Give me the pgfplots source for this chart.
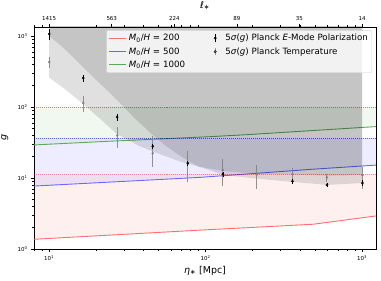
\documentclass[border=0pt]{standalone}
\usepackage{fontspec}
\setmainfont{DejaVu Sans}
\usepackage{pgfplots}
\pgfplotsset{compat=1.18}
\definecolor{mred}{RGB}{255,0,0}
\definecolor{mblue}{RGB}{0,0,255}
\definecolor{mgreen}{RGB}{0,128,0}
\definecolor{lred}{RGB}{255,110,110}
\definecolor{lblue}{RGB}{105,105,255}
\definecolor{lgreen}{RGB}{90,170,90}
\begin{document}
\begin{tikzpicture}
\begin{axis}[
  name=main,
  scale only axis, width=342bp, height=222bp,
  xmode=log, ymode=log, xmin=8, xmax=1228, ymin=1, ymax=1340,
  axis line style={line width=0.6pt},
  tick align=outside, xtick pos=left, ytick pos=left,
  major tick length=3bp, minor tick length=1.8bp,
  every tick/.style={black, line width=0.5pt},
  xtick={10,100,1000},
  xticklabels={10\textsuperscript{1},10\textsuperscript{2},10\textsuperscript{3}},
  ytick={1,10,100,1000},
  yticklabels={10\textsuperscript{0},10\textsuperscript{1},10\textsuperscript{2},10\textsuperscript{3}},
  minor xtick={8,9,20,30,40,50,60,70,80,90,200,300,400,500,600,700,800,900},
  minor ytick={2,3,4,5,6,7,8,9,20,30,40,50,60,70,80,90,200,300,400,500,600,700,800,900},
  tick label style={font=\fontsize{5.5}{6.5}\selectfont},
  xlabel={\textit{η}\textsubscript{∗} [Mpc]}, ylabel={\textit{g}},
  label style={font=\fontsize{9.5}{11}\selectfont},
  xlabel style={yshift=1bp}, ylabel style={yshift=2.5bp},
  legend columns=2,
  legend cell align=left,
  legend style={at={(rel axis cs:0.988,0.986)}, anchor=north east,
    font=\fontsize{8.7}{10}\selectfont, draw=gray!35, fill=white, fill opacity=0.8,
    text opacity=1, draw opacity=1, rounded corners=2bp, inner sep=1.8bp, row sep=1.4bp,
    /tikz/every even column/.append style={column sep=20bp}},
]
% legend entries (row-major to mimic matplotlib column order)
\addlegendimage{legend image code/.code={\draw[color=lred, draw=lred, line width=1pt] (0cm,0cm)--(0.62cm,0cm);}}
\addlegendentry{\textit{M}\textsubscript{0}/\textit{H} = 200}
\addlegendimage{legend image code/.code={\path (0cm,0cm) (0.56cm,0cm); \draw[draw=black,line width=0.8pt] (0.28cm,-0.13cm)--(0.28cm,0.13cm); \fill[fill=black] (0.28cm,0cm) circle (1.2bp);}}
\addlegendentry{5\textit{σ}(\textit{g}) Planck \textit{E}-Mode Polarization}
\addlegendimage{legend image code/.code={\draw[color=mblue!60, draw=mblue!60, line width=1.1pt] (0cm,0cm)--(0.62cm,0cm);}}
\addlegendentry{\textit{M}\textsubscript{0}/\textit{H} = 500}
\addlegendimage{legend image code/.code={\path (0cm,0cm) (0.56cm,0cm); \draw[draw=gray!80,line width=0.8pt] (0.28cm,-0.13cm)--(0.28cm,0.13cm); \fill[fill=gray] (0.28cm,0cm) circle (1.2bp);}}
\addlegendentry{5\textit{σ}(\textit{g}) Planck Temperature}
\addlegendimage{legend image code/.code={\draw[color=lgreen, draw=lgreen, line width=1pt] (0cm,0cm)--(0.62cm,0cm);}}
\addlegendentry{\textit{M}\textsubscript{0}/\textit{H} = 1000}

% coloured bands
\addplot[forget plot, draw=none, fill=mred, fill opacity=0.06] coordinates {(8,1.37) (95,1.85) (486,2.23) (1228,2.92) (1228,11.4) (8,11.4)} -- cycle;
\addplot[forget plot, draw=none, fill=mblue, fill opacity=0.07] coordinates {(8,7.7) (92,10.2) (486,13.3) (1228,15.2) (1228,36.6) (8,36.6)} -- cycle;
\addplot[forget plot, draw=none, fill=mgreen, fill opacity=0.06] coordinates {(8,29.2) (21.2,32.5) (107,38.2) (192,41) (1228,53) (1228,100) (8,100)} -- cycle;

% M0/H lines
\addplot[forget plot, lred, line width=0.9pt] coordinates {(8,1.37) (95,1.85) (486,2.23) (1228,2.92)};
\addplot[forget plot, lblue, line width=0.9pt] coordinates {(8,7.7) (92,10.2) (486,13.3) (1228,15.2)};
\addplot[forget plot, lgreen, line width=0.9pt] coordinates {(8,29.2) (21.2,32.5) (107,38.2) (192,41) (1228,53)};

% dotted levels
\addplot[forget plot, mred, opacity=0.45, dash pattern=on 0.7pt off 1.3pt, line width=0.6pt] coordinates {(8,11.4) (1228,11.4)};
\addplot[forget plot, mblue, opacity=0.6, dash pattern=on 0.7pt off 1.3pt, line width=0.6pt] coordinates {(8,36.6) (1228,36.6)};
\addplot[forget plot, mgreen, opacity=0.55, dash pattern=on 0.7pt off 1.3pt, line width=0.6pt] coordinates {(8,100) (1228,100)};

% 5 sigma regions
\addplot[forget plot, draw=none, fill=black, fill opacity=0.12] coordinates {(10,1000) (12,720) (14,520) (17,340) (20,240) (25,150) (30,100) (36,66) (45,42) (55,29) (70,20) (90,14.5) (130,11) (213,9.8) (360,8.8) (600,8.0) (1000,8.5) (1000,5000) (10,5000)} -- cycle;
\addplot[forget plot, draw=none, fill=black, fill opacity=0.12] coordinates {(10,260) (13,170) (16.5,110) (21.2,68) (27,42) (38,28) (53,21) (69,17) (90,14.5) (130,12.5) (213,11.4) (360,11.2) (600,10.8) (1000,11) (1000,5000) (10,5000)} -- cycle;

% data points
\addplot[forget plot, only marks, mark=*, mark size=1.1bp, gray, opacity=0.85,
  error bars/.cd, y dir=both, y explicit, error mark=none, error bar style={line width=1pt, gray}]
  coordinates {
  (10,430) +- (0,77)
  (16.5,114) +- (0,29)
  (27.2,39.7) += (0,13) -= (0,13)
  (46,22.3) += (0,17) -= (0,8)
  (77,16.3) += (0,8) -= (0,7.6)
  (129,13) +- (0,5.4)
  (213,11.3) += (0,3.9) -= (0,4.4)
  (359,11.3) += (0,2.6) -= (0,2.9)
  (597,10.2) +- (0,1.3)
  (1005,11) += (0,3.4) -= (0,3.9)
  };
\addplot[forget plot, only marks, mark=*, mark size=1.1bp, black,
  error bars/.cd, y dir=both, y explicit, error mark=none, error bar style={line width=0.8pt, black}]
  coordinates {
  (10,1067) +- (0,185)
  (16.5,256) +- (0,28)
  (27.2,72) +- (0,7.5)
  (46,28) +- (0,2)
  (77,16.1) +- (0,1.2)
  (129,11.3) +- (0,0.9)
  (359,9.0) +- (0,0.8)
  (597,8.0) +- (0,0.6)
  (1005,8.5) +- (0,0.8)
  };
\end{axis}
\begin{axis}[
  scale only axis, width=342bp, height=222bp,
  xmode=log, xmin=8, xmax=1228, ymin=0, ymax=1,
  axis x line*=top, axis y line=none,
  axis line style={line width=0.6pt},
  tick align=outside,
  major tick length=3bp, minor tick length=1.8bp,
  every tick/.style={black, line width=0.5pt},
  xtick={10,25.12,63.10,158.5,398.1,1000},
  xticklabels={1415,563,224,89,35,14},
  minor xtick={8,9,20,30,40,50,60,70,80,90,200,300,400,500,600,700,800,900},
  tick label style={font=\fontsize{5.5}{6.5}\selectfont},
  xlabel={ℓ\textsubscript{∗}},
  label style={font=\fontsize{9.5}{11}\selectfont},
]
\addplot[draw=none] coordinates {(10,0.5) (100,0.5)};
\end{axis}
\pgfresetboundingbox
\useasboundingbox ([xshift=-34bp,yshift=-32bp]main.south west) rectangle ([xshift=5bp,yshift=27bp]main.north east);
\end{tikzpicture}
\end{document}
